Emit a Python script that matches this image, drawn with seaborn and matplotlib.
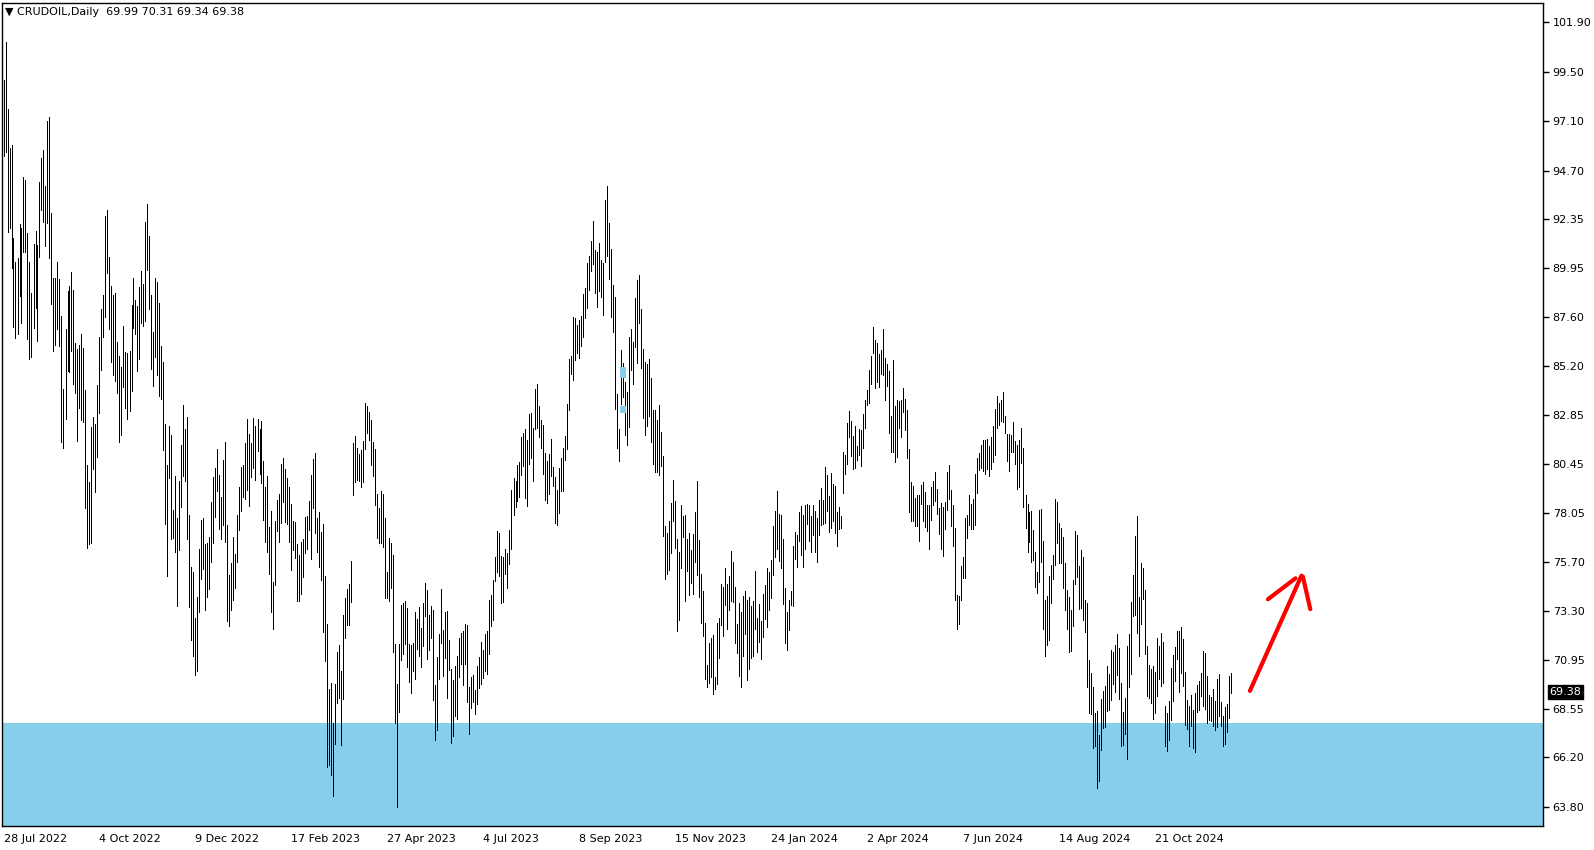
"""
plot.py

CRUDOIL daily bar chart (MT4 style) with support zone and arrow.
"""

import matplotlib
matplotlib.use("Agg")

import numpy as np
import pandas as pd
import matplotlib.pyplot as plt
import seaborn as sns

from matplotlib.transforms import blended_transform_factory

############################################################
# Data
############################################################

header_text = "\u25BC CRUDOIL,Daily  69.99 70.31 69.34 69.38"

last_price = 69.38

zone_top = 67.89

start_date = "2022-07-28"

holidays = ["2022-12-26", "2023-01-02", "2023-04-07",
            "2023-12-25", "2024-01-01", "2024-03-29"]

date_labels = ["28 Jul 2022", "4 Oct 2022", "9 Dec 2022", "17 Feb 2023",
               "27 Apr 2023", "4 Jul 2023", "8 Sep 2023", "15 Nov 2023",
               "24 Jan 2024", "2 Apr 2024", "7 Jun 2024", "14 Aug 2024",
               "21 Oct 2024"]

price_ticks = [101.90, 99.50, 97.10, 94.70, 92.35, 89.95, 87.60, 85.20,
               82.85, 80.45, 78.05, 75.70, 73.30, 70.95, 68.55, 66.20, 63.80]

highs = [
    99.10, 100.96, 97.69, 95.78, 95.93, 91.43, 90.25, 90.47, 92.09, 91.90,
    94.41, 94.25, 91.69, 90.25, 88.74, 91.14, 91.75, 91.09, 94.15, 95.30,
    95.69, 93.97, 97.09, 97.32, 92.64, 89.50, 89.50, 90.28, 89.44, 87.66,
    84.09, 86.99, 88.85, 89.10, 89.79, 88.90, 86.34, 86.02, 86.21, 86.75,
    86.07, 84.05, 80.40, 79.56, 82.25, 82.75, 82.38, 84.29, 86.60, 87.98,
    88.66, 92.50, 92.77, 90.52, 89.10, 88.66, 88.74, 86.39, 85.71, 85.16,
    87.17, 85.87, 85.86, 85.96, 88.17, 89.47, 88.42, 88.13, 89.03, 89.84,
    89.18, 92.19, 93.06, 91.54, 88.64, 86.85, 89.50, 89.27, 88.29, 86.20,
    85.40, 82.41, 80.40, 82.28, 81.86, 78.22, 79.87, 77.84, 79.62, 81.37,
    83.32, 82.15, 82.72, 77.97, 75.46, 75.20, 72.99, 73.99, 76.32, 77.73,
    77.84, 76.58, 76.61, 76.90, 78.60, 79.80, 80.24, 81.16, 79.92, 78.85,
    80.64, 81.52, 77.49, 75.06, 75.66, 76.92, 76.10, 77.97, 79.33, 80.30,
    80.40, 81.45, 82.62, 81.92, 81.47, 82.68, 82.30, 82.64, 82.17, 82.54,
    80.60, 79.35, 79.85, 77.41, 78.17, 74.74, 77.68, 78.70, 78.98, 80.43,
    80.73, 80.19, 79.75, 79.33, 78.49, 77.70, 77.65, 76.56, 76.03, 76.65,
    76.79, 77.86, 77.91, 78.65, 79.92, 80.69, 80.98, 77.83, 78.12, 77.15,
    77.54, 75.01, 72.68, 69.52, 69.81, 67.89, 69.78, 71.32, 71.66, 70.40,
    73.12, 73.94, 74.38, 74.62, 75.74, 81.47, 81.81, 81.23, 80.95, 81.15,
    81.57, 83.41, 83.27, 82.98, 82.59, 81.53, 81.18, 78.99, 78.31, 79.14,
    78.99, 77.83, 75.22, 76.86, 76.61, 76.03, 71.71, 69.77, 71.71, 73.60,
    73.70, 73.80, 73.46, 71.71, 71.66, 71.76, 73.26, 72.92, 73.51, 72.49,
    73.70, 74.67, 74.33, 73.12, 73.55, 73.36, 69.72, 71.08, 72.19, 74.38,
    72.39, 73.26, 73.31, 71.90, 70.50, 69.96, 70.64, 71.13, 72.00, 72.24,
    72.34, 72.68, 72.63, 69.62, 70.10, 70.19, 69.48, 70.65, 71.08, 71.81,
    71.42, 72.20, 72.35, 73.85, 74.09, 74.82, 75.94, 77.20, 77.12, 75.99,
    75.92, 76.33, 76.13, 77.25, 79.19, 79.76, 79.63, 80.41, 80.57, 81.77,
    81.95, 82.17, 81.62, 82.89, 82.92, 82.22, 84.10, 84.34, 83.26, 82.59,
    82.35, 80.97, 80.62, 80.94, 81.65, 80.30, 79.84, 79.19, 80.26, 80.75,
    81.25, 81.82, 83.37, 85.54, 85.70, 87.58, 87.56, 87.22, 87.45, 87.65,
    88.71, 89.02, 90.23, 90.53, 91.29, 92.24, 90.85, 90.77, 91.17, 90.38,
    90.23, 93.28, 93.96, 92.15, 90.88, 89.15, 88.54, 83.84, 82.16, 85.99,
    85.37, 84.42, 83.95, 86.62, 87.01, 86.39, 88.51, 89.39, 89.63, 87.96,
    86.02, 85.42, 85.31, 85.55, 84.63, 83.07, 83.07, 82.59, 83.32, 82.01,
    80.84, 77.44, 77.10, 77.68, 78.56, 79.67, 78.66, 76.81, 76.18, 78.46,
    77.93, 77.98, 76.81, 77.10, 76.28, 77.05, 78.12, 79.63, 76.76, 75.11,
    74.28, 72.73, 70.69, 71.76, 72.00, 72.15, 70.12, 72.73, 72.97, 74.62,
    74.49, 75.40, 74.62, 75.01, 76.23, 75.69, 74.48, 72.68, 73.70, 73.26,
    74.04, 74.28, 73.85, 74.01, 73.56, 73.80, 75.26, 72.97, 73.65, 72.83,
    74.14, 74.58, 75.41, 75.21, 75.79, 77.45, 78.17, 79.14, 78.03, 77.98,
    76.81, 74.45, 73.27, 73.85, 74.26, 76.47, 77.15, 77.01, 78.12, 78.42,
    77.98, 78.47, 78.53, 78.48, 77.93, 78.47, 78.17, 77.83, 78.71, 79.29,
    78.71, 80.31, 79.92, 78.90, 80.02, 79.49, 79.39, 78.12, 78.37, 77.93,
    81.04, 80.89, 82.45, 83.03, 82.54, 81.82, 82.30, 81.33, 82.16, 82.11,
    82.88, 83.56, 84.05, 85.02, 85.70, 87.11, 86.48, 86.33, 85.80, 85.99,
    87.01, 85.60, 85.31, 84.97, 82.79, 85.51, 83.27, 83.56, 83.52, 83.56,
    84.15, 83.61, 83.08, 81.20, 79.58, 79.36, 78.81, 78.95, 78.95, 79.43,
    79.58, 79.09, 78.46, 78.46, 79.34, 79.63, 80.07, 79.24, 78.32, 78.56,
    78.37, 78.61, 80.07, 80.41, 79.19, 78.46, 77.35, 74.09, 74.04, 75.50,
    75.94, 77.83, 77.98, 78.95, 78.51, 78.75, 79.97, 80.75, 80.99, 81.38,
    81.62, 81.62, 81.67, 81.33, 81.77, 82.30, 83.13, 83.76, 83.42, 83.56,
    83.95, 82.79, 81.91, 81.91, 81.86, 82.49, 81.57, 81.38, 81.62, 82.20,
    81.23, 78.95, 78.51, 78.12, 78.17, 77.25, 76.18, 75.21, 78.22, 78.27,
    76.72, 73.85, 74.04, 75.01, 75.55, 76.03, 78.75, 78.61, 77.59, 77.35,
    76.91, 75.65, 74.33, 73.99, 73.36, 74.82, 77.20, 77.00, 75.50, 76.28,
    75.94, 73.85, 73.70, 70.93, 70.30, 69.62, 68.36, 68.47, 67.29, 69.04,
    69.43, 69.67, 70.64, 70.25, 71.42, 71.32, 71.66, 72.20, 71.52, 69.82,
    68.43, 69.09, 71.61, 72.20, 73.75, 75.06, 76.96, 77.93, 73.99, 75.64,
    75.40, 74.33, 71.61, 70.69, 70.50, 70.64, 70.35, 72.00, 71.61, 72.24,
    71.81, 68.70, 68.36, 68.94, 70.54, 71.18, 71.56, 72.34, 72.34, 72.54,
    71.95, 70.35, 68.99, 68.70, 69.23, 68.50, 69.33, 69.72, 69.91, 70.30,
    71.37, 71.27, 70.16, 69.23, 69.14, 69.53, 68.94, 70.01, 70.25, 68.89,
    68.21, 68.65, 68.80, 70.16, 70.31,
]

lows = [
    95.41, 95.62, 91.74, 91.90, 89.99, 87.12, 86.55, 86.75, 88.61, 87.32,
    90.77, 90.73, 86.51, 85.55, 85.66, 87.04, 88.04, 86.43, 90.49, 92.79,
    92.21, 91.06, 92.14, 90.47, 88.22, 85.94, 86.21, 86.99, 86.18, 81.50,
    81.21, 82.64, 84.97, 84.90, 85.96, 84.32, 83.92, 81.57, 83.16, 82.59,
    82.49, 78.33, 76.37, 76.58, 76.61, 80.21, 79.08, 80.81, 82.91, 85.02,
    86.60, 87.57, 89.71, 87.01, 85.39, 84.76, 84.50, 83.88, 81.54, 81.86,
    84.21, 83.16, 82.62, 83.03, 84.01, 87.04, 86.75, 84.98, 85.55, 87.28,
    87.14, 87.40, 89.87, 88.00, 85.07, 84.26, 85.66, 84.76, 83.77, 83.62,
    81.13, 77.54, 75.01, 79.79, 76.82, 76.86, 76.19, 73.57, 76.29, 78.38,
    79.88, 79.64, 76.81, 73.52, 71.90, 71.13, 70.22, 70.41, 73.28, 74.87,
    75.37, 73.38, 73.99, 74.38, 75.69, 76.60, 77.88, 79.16, 77.29, 76.81,
    77.49, 76.68, 72.84, 72.58, 73.36, 73.83, 74.44, 75.71, 77.25, 78.18,
    78.83, 78.75, 79.17, 78.41, 79.84, 80.27, 79.66, 81.07, 79.98, 79.51,
    77.75, 76.66, 76.19, 75.12, 73.28, 72.45, 74.57, 77.20, 76.66, 77.60,
    78.62, 77.63, 77.52, 76.68, 75.32, 76.29, 75.90, 73.80, 73.81, 74.12,
    74.98, 76.14, 76.31, 77.26, 75.84, 78.33, 77.10, 76.18, 75.46, 74.82,
    72.31, 70.90, 65.75, 65.83, 65.35, 64.33, 66.87, 68.86, 69.10, 66.80,
    69.04, 72.02, 72.63, 72.63, 73.76, 78.95, 79.56, 79.66, 79.64, 79.33,
    79.58, 81.18, 81.96, 81.62, 80.40, 79.87, 78.46, 76.86, 76.61, 76.61,
    76.42, 73.94, 73.94, 73.81, 74.43, 71.32, 67.89, 63.81, 68.41, 70.93,
    71.22, 71.71, 70.59, 69.86, 69.33, 70.40, 70.01, 71.47, 71.13, 70.59,
    71.61, 73.07, 70.98, 71.42, 72.00, 68.99, 67.05, 67.53, 70.01, 71.76,
    70.15, 71.03, 69.09, 70.45, 66.90, 67.24, 68.21, 68.07, 70.11, 70.74,
    69.72, 70.74, 68.89, 67.34, 68.60, 68.90, 68.30, 68.80, 69.59, 69.79,
    70.05, 70.42, 70.23, 71.21, 72.59, 72.88, 74.76, 75.23, 75.02, 73.72,
    73.75, 75.10, 74.45, 75.60, 76.34, 77.98, 78.38, 78.66, 78.87, 79.92,
    80.34, 78.81, 78.43, 80.44, 80.73, 79.63, 82.14, 82.19, 81.78, 81.25,
    79.97, 78.68, 78.55, 78.97, 79.87, 79.37, 77.57, 77.51, 78.06, 79.16,
    79.15, 80.65, 81.20, 83.05, 84.83, 84.54, 85.51, 85.85, 85.62, 86.20,
    86.64, 87.56, 88.03, 88.89, 89.83, 90.15, 88.76, 88.08, 88.83, 88.58,
    87.71, 90.28, 90.53, 89.46, 87.61, 86.88, 83.14, 81.22, 80.62, 83.35,
    83.72, 81.86, 81.37, 82.27, 85.02, 84.34, 86.12, 85.37, 87.32, 85.13,
    82.70, 81.86, 82.30, 82.78, 81.54, 80.45, 80.06, 80.06, 79.92, 80.37,
    76.96, 74.88, 75.12, 75.32, 76.13, 77.68, 76.37, 72.36, 72.89, 75.40,
    76.92, 73.81, 75.27, 74.09, 74.67, 74.12, 75.68, 75.06, 74.01, 72.75,
    72.10, 70.00, 69.60, 69.80, 70.11, 69.30, 69.50, 69.77, 71.03, 72.63,
    72.12, 73.60, 72.45, 73.36, 73.81, 73.77, 71.77, 71.29, 70.17, 69.60,
    71.14, 72.21, 69.96, 70.51, 71.05, 71.13, 72.45, 71.32, 71.81, 70.99,
    72.07, 72.93, 72.52, 73.37, 73.92, 75.07, 75.94, 76.33, 75.76, 75.42,
    73.67, 71.78, 71.44, 72.39, 73.59, 73.56, 75.84, 75.45, 76.72, 76.04,
    75.45, 76.33, 77.54, 76.73, 76.18, 77.01, 76.18, 75.71, 76.98, 77.49,
    77.54, 77.59, 78.17, 77.15, 77.35, 77.69, 77.10, 76.49, 77.30, 77.32,
    79.05, 79.97, 80.46, 81.74, 80.84, 80.21, 80.28, 80.65, 80.89, 80.33,
    81.23, 82.22, 83.32, 83.39, 84.34, 85.86, 84.12, 84.44, 84.21, 84.83,
    84.76, 83.55, 84.24, 81.96, 81.04, 81.01, 80.55, 80.81, 82.20, 81.74,
    82.98, 82.11, 80.72, 78.12, 77.66, 77.66, 77.45, 77.46, 76.70, 78.53,
    77.70, 77.41, 77.22, 76.34, 77.75, 78.48, 78.67, 78.03, 77.07, 76.34,
    76.00, 77.27, 78.22, 78.77, 77.46, 76.49, 73.85, 72.46, 72.68, 73.85,
    74.92, 74.92, 76.88, 77.49, 77.30, 77.31, 77.49, 79.06, 80.18, 80.26,
    80.13, 79.97, 80.21, 79.87, 80.23, 80.57, 80.91, 82.22, 82.35, 82.54,
    82.49, 81.96, 80.62, 80.13, 81.05, 81.05, 80.45, 79.26, 79.35, 80.52,
    78.38, 77.35, 76.20, 76.67, 75.70, 75.79, 74.48, 74.19, 74.72, 75.70,
    72.46, 71.13, 71.66, 71.91, 73.70, 74.87, 75.55, 76.60, 75.66, 75.65,
    74.43, 73.38, 72.42, 71.34, 71.39, 72.60, 74.64, 74.98, 73.43, 73.48,
    72.89, 72.31, 69.64, 68.38, 68.33, 66.68, 66.77, 64.73, 65.07, 66.58,
    67.65, 67.68, 68.47, 68.51, 69.01, 69.77, 69.36, 70.20, 69.06, 66.77,
    66.82, 67.36, 66.14, 69.64, 70.27, 73.09, 73.14, 72.26, 71.14, 72.70,
    73.91, 71.24, 69.20, 69.09, 68.86, 68.08, 68.38, 69.20, 70.03, 69.65,
    69.83, 66.77, 66.53, 67.06, 68.04, 68.96, 69.93, 71.00, 69.40, 70.32,
    69.69, 67.79, 67.60, 66.77, 67.74, 66.68, 66.48, 68.43, 68.52, 69.20,
    68.72, 68.57, 67.89, 68.04, 67.99, 67.74, 67.55, 67.70, 68.23, 67.74,
    66.77, 66.87, 67.45, 68.13, 69.34,
]

# small light-blue marks drawn on the chart around mid Sep 2023
mark_bar = [309.7, 309.7]
mark_low = [84.65, 82.94]
mark_high = [85.17, 83.27]

# hand drawn arrow (bar position, price)
arrow_shaft_x = [623.2, 649.0]
arrow_shaft_y = [69.43, 75.03]
arrow_left_x = [632.2, 646.0]
arrow_left_y = [73.88, 74.90]
arrow_right_x = [649.7, 653.4]
arrow_right_y = [74.98, 73.40]

############################################################
# Build frame
############################################################

n_bars = min(len(highs), len(lows))

dates = pd.bdate_range(start_date, periods=n_bars, freq="C", holidays=holidays)

bar_idx = np.arange(n_bars)

bars = pd.DataFrame({
    "bar": np.repeat(bar_idx, 2),
    "price": np.column_stack([lows[:n_bars], highs[:n_bars]]).ravel(),
})

date_strings = [f"{d.day} {d.strftime('%b %Y')}" for d in dates]

tick_pos = [date_strings.index(lbl) for lbl in date_labels if lbl in date_strings]
tick_txt = [lbl for lbl in date_labels if lbl in date_strings]

############################################################
# Plot
############################################################

sns.set_style("white")
plt.rcParams["font.family"] = ["DejaVu Sans"]

W, H = 1594, 850

fig = plt.figure(figsize=(W / 100, H / 100), dpi=100)
fig.patch.set_facecolor("white")

ax = fig.add_axes([2 / W, 1 - 826 / H, 1541 / W, 823 / H])

# support zone
ax.axhspan(50, zone_top, color="#87CEEB", lw=0, zorder=0)

# one thin vertical high-low line per day
sns.lineplot(
    data=bars,
    x="bar",
    y="price",
    units="bar",
    estimator=None,
    sort=False,
    color="black",
    lw=0.55,
    antialiased=False,
    legend=False,
    ax=ax,
    zorder=2,
)

for bx, lo, hi in zip(mark_bar, mark_low, mark_high):
    ax.bar(bx, hi - lo, bottom=lo, width=3, color="#87CEEB", lw=0, zorder=3)

red_kw = dict(color="red", lw=3, solid_capstyle="round", zorder=4)
ax.plot(arrow_shaft_x, arrow_shaft_y, **red_kw)
ax.plot(arrow_left_x, arrow_left_y, **red_kw)
ax.plot(arrow_right_x, arrow_right_y, **red_kw)

# 2 px per bar, bars centred on pixel columns
ax.set_xlim(-0.75, 769.75)
ax.set_ylim(62.87, 102.84)

ax.set_xlabel("")
ax.set_ylabel("")

# y axis on the right
ax.yaxis.tick_right()
ax.set_yticks(price_ticks)
ax.set_yticklabels([f"{v:.2f}" for v in price_ticks])

ax.set_xticks(tick_pos)
ax.set_xticklabels(tick_txt, ha="left")

ax.tick_params(axis="both", direction="out", length=4, width=1,
               color="black", labelcolor="black", labelsize=8)
ax.tick_params(axis="y", pad=3)
ax.tick_params(axis="x", pad=2)

for side in ["left", "right", "top", "bottom"]:
    ax.spines[side].set_visible(True)
    ax.spines[side].set_color("black")
    ax.spines[side].set_linewidth(1)

# last price box
trans = blended_transform_factory(ax.transAxes, ax.transData)
ax.annotate(
    f"{last_price:.2f}",
    xy=(1.0, last_price),
    xycoords=trans,
    xytext=(4.5, 0),
    textcoords="offset points",
    ha="left",
    va="center",
    color="white",
    fontsize=8,
    bbox=dict(boxstyle="square,pad=0.15", facecolor="black", edgecolor="black"),
    annotation_clip=False,
    zorder=6,
)

fig.text(5 / W, 1 - 12 / H, header_text, fontsize=8, ha="left", va="center",
         color="black")

fig.savefig("out.png", dpi=100)

plt.close(fig)
